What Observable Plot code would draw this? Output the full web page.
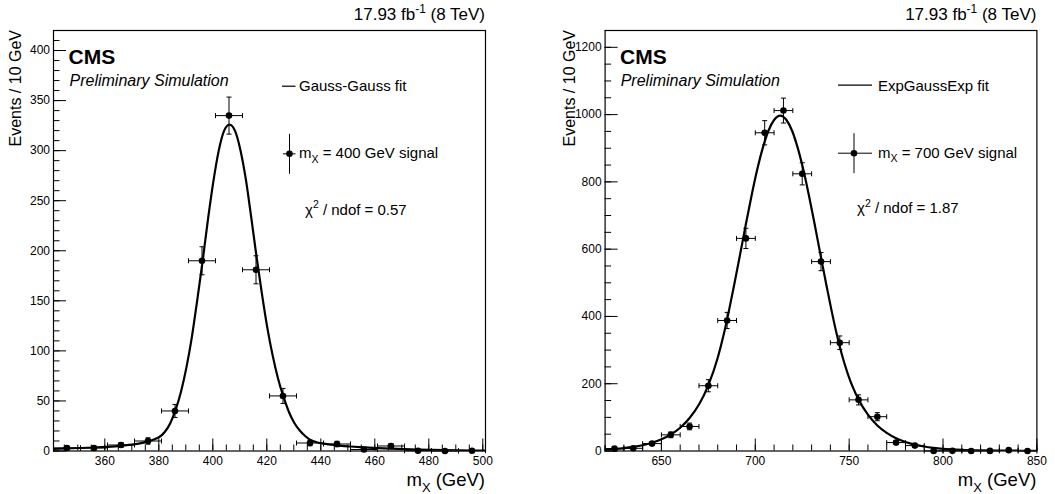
<!DOCTYPE html>
<html><head><meta charset="utf-8">
<script src="https://cdn.jsdelivr.net/npm/d3@7"></script>
<script src="https://cdn.jsdelivr.net/npm/@observablehq/plot@0.6"></script>
<style>
body{margin:0;background:#fff;}
#wrap{position:relative;width:1055px;height:494px;overflow:hidden;background:#fff;}
#wrap svg{position:absolute;top:0;}
</style></head><body><div id="wrap"></div>
<script>
const FONT = '"Liberation Sans", Arial, Helvetica, sans-serif';

// ---------- Left panel: m_X = 400 GeV, Gauss-Gauss fit ----------
const massL   = [346, 356, 366, 376, 386, 396, 406, 416, 426, 436, 446, 456, 466, 476, 486, 496];
const eventsL = [3, 3, 6, 10, 40, 190, 335, 181, 55, 8, 7, 1.5, 5, 0.3, 0, 0.3];
const errL    = [1.7, 1.7, 2.4, 3.2, 6.5, 14, 18.5, 14, 7.5, 2.8, 2.7, 1.2, 2.2, 0.5, 0, 0.5];
const fitXL = [341, 346, 351, 356, 361, 366, 370, 373, 376, 378.2, 380.2, 382.2, 384.2, 386.2, 388.2, 390.2,
  392.2, 394.2, 396.2, 398.2, 400.2, 402.2, 404.2, 406.2, 408.2, 410.2, 412.2, 414.2, 416.2, 418.2, 420.2,
  422.2, 424.2, 426.2, 428.2, 430.2, 432.2, 434.2, 436.2, 438.5, 441, 446, 451, 456, 461, 466, 471, 476,
  481, 486, 491, 496, 501];
const fitYL = [2.2, 2.6, 3.0, 3.5, 4.2, 5.2, 6.4, 7.6, 9.6, 11.5, 14, 19, 27.5, 41, 59, 83,
  113, 150, 189, 231, 269, 300, 320, 326, 320, 301, 272, 234, 194, 157, 123,
  95, 72, 54, 39, 28, 20.5, 15, 11, 8.8, 7.3, 5.6, 4.5, 3.6, 2.9, 2.3, 1.8, 1.4,
  1.1, 0.85, 0.65, 0.5, 0.4];
const xTicksL = [360, 380, 400, 420, 440, 460, 480, 500];
const yTicksL = [0, 50, 100, 150, 200, 250, 300, 350, 400];

// ---------- Right panel: m_X = 700 GeV, ExpGaussExp fit ----------
const massR   = [625, 635, 645, 655, 665, 675, 685, 695, 705, 715, 725, 735, 745, 755, 765, 775, 785, 795, 805, 815, 825, 835, 845];
const eventsR = [7, 8, 22, 48, 73, 194, 388, 632, 946, 1012, 824, 563, 322, 152, 102, 25, 16, 0.3, 0.5, 0, 0.3, 2.5, 0];
const errR    = [3.5, 3.5, 6, 8.5, 10, 18, 24, 30, 36, 37, 33, 27, 20, 15, 12, 6, 4.5, 0, 1, 0, 0.6, 2, 0];
const fitXR = [620, 625, 630, 635, 640, 645, 650, 655, 660, 665, 670, 675, 680, 683.3, 686, 689, 692, 695,
  698, 701, 704, 707, 710, 713.3, 716.6, 719.6, 722.6, 725.6, 728.6, 731.6, 734.6, 737.6, 740.6, 743.3,
  746, 749, 752, 755, 760, 765, 770, 775, 780, 785, 790, 795, 800, 810, 820, 830, 840, 850];
const fitYR = [4.3, 6.1, 8.6, 12.2, 17.2, 24.4, 34.6, 49, 69, 98, 138, 196, 277, 349, 418, 501, 587, 675,
  759, 836, 901, 952, 984, 997, 984, 952, 901, 836, 759, 675, 587, 501, 418, 349,
  289, 234, 189, 153, 108, 76, 54, 38, 27, 19, 13.3, 9.4, 6.6, 3.3, 1.6, 0.8, 0.4, 0.2];
const xTicksR = [650, 700, 750, 800, 850];
const yTicksR = [0, 200, 400, 600, 800, 1000, 1200];

const capH = {draw(ctx) { ctx.moveTo(-2.5, 0); ctx.lineTo(2.5, 0); }};
const capV = {draw(ctx) { ctx.moveTo(0, -2.5); ctx.lineTo(0, 2.5); }};
const plain = d => String(d);

function panel(cfg) {
  const rows = cfg.mass.map((x, i) => ({x, y: cfg.events[i], e: cfg.err[i]}));
  const withErr = rows.filter(d => d.e > 0);
  const fit = cfg.fitX.map((x, i) => ({x, y: cfg.fitY[i]}));
  const h = cfg.binW / 2;
  return Plot.plot({
    width: cfg.width, height: 494,
    marginLeft: cfg.ml, marginRight: cfg.mr, marginTop: 30, marginBottom: 43.5,
    style: {fontFamily: FONT, color: "#000", background: "transparent", overflow: "visible"},
    x: {domain: cfg.xDomain},
    y: {domain: cfg.yDomain},
    marks: [
      Plot.line(fit, {x: "x", y: "y", stroke: "#000", strokeWidth: 2.2, curve: "monotone-x", clip: true}),
      Plot.link(rows, {x1: d => d.x - h, x2: d => d.x + h, y1: "y", y2: "y", stroke: "#000", strokeWidth: 1}),
      Plot.link(withErr, {x1: "x", x2: "x", y1: d => d.y - d.e, y2: d => d.y + d.e, stroke: "#000", strokeWidth: 1}),
      Plot.dot(withErr, {x: "x", y: d => d.y + d.e, symbol: capH, stroke: "#000", fill: "none", strokeWidth: 1}),
      Plot.dot(withErr, {x: "x", y: d => d.y - d.e, symbol: capH, stroke: "#000", fill: "none", strokeWidth: 1}),
      Plot.dot(rows, {x: d => d.x - h, y: "y", symbol: capV, stroke: "#000", fill: "none", strokeWidth: 1}),
      Plot.dot(rows, {x: d => d.x + h, y: "y", symbol: capV, stroke: "#000", fill: "none", strokeWidth: 1}),
      Plot.dot(rows, {x: "x", y: "y", r: 3.3, fill: "#000", stroke: "none"}),
      Plot.axisX(cfg.xMinor, {tickSize: -6, tickFormat: () => "", label: null}),
      Plot.axisX(cfg.xTicks, {tickSize: -12, tickFormat: () => "", label: null}),
      Plot.axisX(cfg.xTicks, {tickSize: 0, tickPadding: 5, fontSize: 12, tickFormat: plain, label: null}),
      Plot.axisY(cfg.yMinor, {tickSize: -6.5, tickFormat: () => "", label: null}),
      Plot.axisY(cfg.yTicks, {tickSize: -13, tickFormat: () => "", label: null}),
      Plot.axisY(cfg.yTicks, {tickSize: 0, tickPadding: 3.5, fontSize: 12, tickFormat: plain, label: null}),
      Plot.frame({stroke: "#000", strokeWidth: 1.2})
    ]
  });
}

function addText(svg, x, y, parts, o = {}) {
  const size = o.size || 15;
  const t = d3.select(svg).append("text")
    .attr("x", x).attr("y", y)
    .attr("font-size", size)
    .attr("text-anchor", o.anchor || "start")
    .attr("font-weight", o.weight || "normal")
    .attr("font-style", o.style || "normal")
    .attr("fill", "#000");
  if (o.rotate) t.attr("transform", `rotate(${o.rotate},${x},${y})`);
  let cur = 0;
  for (const p of parts) {
    const s = t.append("tspan");
    let off = 0;
    if (typeof p === "string") s.text(p);
    else {
      s.text(p.t).attr("font-size", size * 0.7);
      off = p.sup ? -0.42 * size : 0.3 * size;
    }
    s.attr("dy", off - cur);
    cur = off;
  }
}

function legend(svg, L) {
  const g = d3.select(svg).append("g").attr("stroke", "#000").attr("fill", "none");
  g.append("line").attr("x1", L.lineX1).attr("x2", L.lineX2).attr("y1", L.lineY).attr("y2", L.lineY).attr("stroke-width", 1.2);
  g.append("line").attr("x1", L.mkX1).attr("x2", L.mkX2).attr("y1", L.mkY).attr("y2", L.mkY).attr("stroke-width", 1);
  g.append("line").attr("x1", L.mkCx).attr("x2", L.mkCx).attr("y1", L.mkY - 20).attr("y2", L.mkY + 20).attr("stroke-width", 1);
  g.append("circle").attr("cx", L.mkCx).attr("cy", L.mkY).attr("r", 3.3).attr("fill", "#000").attr("stroke", "none");
}

const wrap = document.getElementById("wrap");

// Left
const svgL = panel({
  mass: massL, events: eventsL, err: errL, fitX: fitXL, fitY: fitYL, binW: 10,
  width: 527, ml: 53, mr: 42, xDomain: [341, 501], yDomain: [0, 420],
  xTicks: xTicksL, xMinor: d3.range(345, 501, 5),
  yTicks: yTicksL, yMinor: d3.range(0, 421, 10)
});
svgL.style.left = "0px";
wrap.appendChild(svgL);
addText(svgL, 485, 20.3, ["17.93 fb", {t: "-1", sup: true}, " (8 TeV)"], {size: 17, anchor: "end"});
addText(svgL, 68.6, 64.2, ["CMS"], {size: 21, weight: "bold"});
addText(svgL, 69.5, 86.2, ["Preliminary Simulation"], {size: 16, style: "italic"});
addText(svgL, 299, 91.3, ["Gauss-Gauss fit"], {size: 15});
addText(svgL, 299, 158, ["m", {t: "X"}, " = 400 GeV signal"], {size: 15});
addText(svgL, 305, 214.6, ["χ", {t: "2", sup: true}, " / ndof = 0.57"], {size: 15});
addText(svgL, 21, 30, ["Events / 10 GeV"], {size: 16, anchor: "end", rotate: -90});
addText(svgL, 485, 486, ["m", {t: "X"}, " (GeV)"], {size: 18.5, anchor: "end"});
legend(svgL, {lineX1: 282, lineX2: 295.5, lineY: 86.2, mkX1: 283, mkX2: 295.5, mkCx: 289.5, mkY: 153.8});

// Right
const svgR = panel({
  mass: massR, events: eventsR, err: errR, fitX: fitXR, fitY: fitYR, binW: 10,
  width: 528, ml: 77.6, mr: 18.6, xDomain: [620, 850], yDomain: [0, 1250],
  xTicks: xTicksR, xMinor: d3.range(620, 851, 10),
  yTicks: yTicksR, yMinor: d3.range(0, 1251, 50)
});
svgR.style.left = "527px";
wrap.appendChild(svgR);
addText(svgR, 509.4, 20.3, ["17.93 fb", {t: "-1", sup: true}, " (8 TeV)"], {size: 17, anchor: "end"});
addText(svgR, 93, 64.2, ["CMS"], {size: 21, weight: "bold"});
addText(svgR, 93.7, 86.2, ["Preliminary Simulation"], {size: 16, style: "italic"});
addText(svgR, 351, 90.5, ["ExpGaussExp fit"], {size: 15});
addText(svgR, 351, 157.5, ["m", {t: "X"}, " = 700 GeV signal"], {size: 15});
addText(svgR, 330, 213, ["χ", {t: "2", sup: true}, " / ndof = 1.87"], {size: 15});
addText(svgR, 48, 30, ["Events / 10 GeV"], {size: 16, anchor: "end", rotate: -90});
addText(svgR, 509.4, 486, ["m", {t: "X"}, " (GeV)"], {size: 18.5, anchor: "end"});
legend(svgR, {lineX1: 311, lineX2: 345, lineY: 85.2, mkX1: 311, mkX2: 345, mkCx: 327, mkY: 153.2});
</script>
</body></html>
